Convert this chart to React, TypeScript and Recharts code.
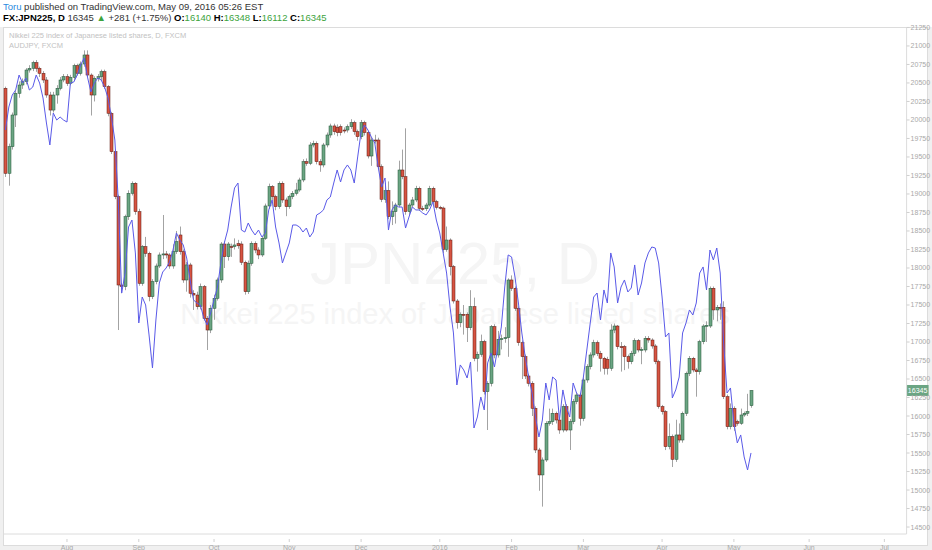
import { ComposedChart, Bar, Line, XAxis, YAxis, ReferenceLine } from 'recharts';

// JPN225 daily candles, Jul 2015 – May 9 2016
const opens = [
  20428, 19279, 19639, 20067, 20360, 20472, 20517, 20675, 20698, 20774, 20698, 20630, 20540, 20337, 20134, 20337, 20428, 20540, 20585, 20495,
  20576, 20733, 20630, 20756, 20878, 20607, 20337, 20563, 20585, 20652, 20450, 20090, 19571, 18964, 17770, 17748, 18693, 19009, 19144, 18761,
  17793, 18288, 18198, 17613, 17815, 18027, 18176, 18190, 18176, 18027, 18221, 18446, 18221, 17838, 18041, 17658, 17635, 17477, 17748, 17320,
  17162, 17455, 17590, 17838, 18324, 18153, 18290, 18288, 18330, 18324, 18077, 17680, 18063, 18333, 18243, 18176, 18401, 18838, 19099, 18964,
  18829, 19144, 18919, 18829, 18964, 19009, 19054, 19189, 19436, 19414, 19662, 19684, 19436, 19392, 19662, 19797, 19919, 19900, 19909, 19864,
  19864, 19909, 19963, 19842, 19774, 19963, 19829, 19513, 19729, 19729, 19369, 18928, 19045, 18694, 18761, 18851, 19324, 19234, 18761, 18851,
  18919, 19076, 18806, 18800, 18851, 19076, 18896, 18820, 18810, 18252, 18378, 18018, 17554, 17261, 17374, 17374, 17194, 17477, 16780, 16834,
  17004, 16329, 16442, 17207, 16825, 17037, 17045, 17059, 17838, 17726, 17455, 16991, 16802, 16541, 16442, 16104, 15541, 15204, 15406, 15902,
  15924, 16037, 15946, 15811, 16127, 15811, 15924, 16194, 16284, 15969, 16487, 16667, 16825, 16991, 16847, 16780, 16766, 16645, 17162, 17216,
  16937, 16937, 16802, 16734, 16847, 17018, 16892, 16892, 17050, 17027, 16946, 16734, 16127, 16059, 15586, 15721, 15415, 15744, 15676, 16037,
  16577, 16780, 16622, 16599, 17004, 17216, 17216, 17726, 17433, 17469, 17469, 16261, 15856, 16104, 15924, 15902, 16014, 16037, 16140,
];
const highs = [
  20450, 19680, 20100, 20400, 20520, 20560, 20700, 20740, 20800, 20810, 20720, 20660, 20580, 20380, 20380, 20470, 20580, 20620, 20620, 20610,
  20760, 20760, 20790, 20940, 20940, 20630, 20590, 20620, 20680, 20680, 20470, 20110, 19600, 18990, 17800, 18720, 19050, 19170, 19160, 18800,
  18310, 18420, 18220, 17850, 18060, 18210, 18716, 18230, 18200, 18320, 18500, 18560, 18250, 18080, 18070, 17700, 17680, 17790, 17770, 17350,
  17500, 17640, 17870, 18350, 18360, 18350, 18330, 18400, 18380, 18360, 18100, 18100, 18360, 18360, 18280, 18430, 18870, 19140, 19120, 18990,
  19170, 19170, 18950, 18990, 19040, 19150, 19220, 19470, 19480, 19700, 19720, 19710, 19470, 19690, 19830, 19950, 19950, 19940, 19940, 19900,
  19940, 20010, 19990, 19870, 20000, 19990, 19850, 19760, 19800, 19760, 19400, 19150, 19170, 18900, 18880, 19450, 19600, 19887, 18880, 18960,
  19110, 19100, 18840, 18880, 19110, 19100, 18920, 18840, 18830, 18560, 18400, 18040, 17580, 17400, 17500, 17400, 17700, 17600, 16870, 17100,
  17030, 16470, 17230, 17240, 17150, 17100, 17200, 17860, 17900, 17750, 17480, 17020, 16830, 16570, 16470, 16130, 15570, 15440, 15930, 16100,
  16100, 16060, 15980, 16160, 16160, 15960, 16230, 16320, 16310, 16520, 16700, 16860, 17030, 17020, 16880, 16800, 16800, 17240, 17250, 17230,
  17000, 16960, 16830, 16880, 17050, 17040, 16930, 17080, 17080, 17050, 16970, 16760, 16150, 16080, 15900, 15750, 15950, 15900, 16060, 16600,
  16810, 16800, 16650, 17030, 17240, 17280, 17750, 17750, 17500, 17520, 17550, 16290, 16170, 16130, 15950, 16100, 16060, 16300, 16348,
];
const lows = [
  19230, 19112, 19600, 19905, 20300, 20420, 20480, 20640, 20660, 20650, 20580, 20500, 20300, 20060, 20100, 20220, 20400, 20510, 20460, 20470,
  20540, 20600, 20600, 20720, 20580, 20060, 20250, 20520, 20540, 20420, 20050, 19540, 18930, 17162, 17658, 17700, 18650, 18980, 18720, 17760,
  17760, 18150, 17550, 17580, 17780, 18000, 18120, 18130, 17990, 17990, 18190, 18180, 17800, 17680, 17600, 17433, 17440, 17440, 17290, 16892,
  17120, 17300, 17560, 17800, 18000, 18100, 18150, 18250, 18260, 18040, 17640, 17650, 18030, 18200, 18120, 18150, 18380, 18800, 18920, 18780,
  18800, 18880, 18700, 18800, 18930, 18980, 19030, 19160, 19380, 19390, 19630, 19400, 19300, 19360, 19630, 19760, 19800, 19780, 19790, 19820,
  19830, 19880, 19800, 19720, 19740, 19790, 19480, 19380, 19680, 19340, 18890, 18880, 18660, 18580, 18600, 18820, 19200, 18720, 18700, 18820,
  18890, 18770, 18770, 18770, 18830, 18870, 18790, 18790, 18200, 18220, 17900, 17520, 17180, 17200, 17100, 17000, 17160, 16740, 16600, 16800,
  16290, 15811, 16400, 16780, 16790, 16900, 16990, 16800, 17690, 17420, 16950, 16500, 16500, 16400, 16000, 15500, 14990, 14776, 15380, 15870,
  15880, 15900, 15760, 15780, 15790, 15541, 15890, 16160, 15870, 15930, 16450, 16630, 16790, 16810, 16600, 16560, 16560, 16610, 17120, 16900,
  16600, 16620, 16640, 16700, 16810, 16860, 16700, 16860, 16990, 16910, 16700, 16100, 16020, 15540, 15550, 15311, 15380, 15640, 15640, 16000,
  16540, 16590, 16261, 16560, 16970, 17000, 17190, 17300, 17280, 17300, 16230, 15820, 15820, 15800, 15870, 15880, 15990, 16000, 16112,
];
const closes = [
  19279, 19639, 20067, 20360, 20472, 20517, 20675, 20698, 20774, 20698, 20630, 20540, 20337, 20134, 20337, 20428, 20540, 20585, 20495, 20576,
  20733, 20630, 20756, 20878, 20607, 20337, 20563, 20585, 20652, 20450, 20090, 19571, 18964, 17770, 17748, 18693, 19009, 19144, 18761, 17793,
  18288, 18198, 17613, 17815, 18027, 18176, 18190, 18176, 18027, 18221, 18356, 18221, 17838, 18041, 17658, 17635, 17477, 17748, 17320, 17162,
  17455, 17590, 17838, 18324, 18153, 18324, 18288, 18311, 18300, 18077, 17680, 18063, 18333, 18243, 18176, 18401, 18838, 19099, 18964, 18829,
  19144, 18919, 18829, 18964, 19009, 19054, 19189, 19436, 19414, 19662, 19684, 19436, 19392, 19662, 19797, 19919, 19842, 19829, 19829, 19860,
  19909, 19963, 19842, 19774, 19963, 19829, 19513, 19729, 19720, 19369, 18928, 19045, 18694, 18761, 18851, 19324, 19234, 18761, 18851, 18919,
  19076, 18806, 18800, 18851, 19076, 18896, 18820, 18810, 18252, 18378, 18018, 17554, 17261, 17374, 17370, 17194, 17477, 16780, 16834, 17004,
  16329, 16442, 17207, 16825, 17037, 17045, 17059, 17838, 17726, 17455, 16991, 16802, 16541, 16442, 16104, 15541, 15204, 15406, 15902, 15924,
  16037, 15946, 15811, 16127, 15811, 15924, 16194, 16284, 15969, 16487, 16667, 16825, 16991, 16847, 16780, 16645, 16645, 17162, 17216, 16937,
  16930, 16802, 16734, 16847, 17018, 16892, 16900, 17050, 17027, 16946, 16734, 16127, 16059, 15586, 15721, 15415, 15744, 15676, 16037, 16577,
  16780, 16622, 16599, 17004, 17216, 17225, 17726, 17433, 17469, 17460, 16261, 15856, 16104, 15856, 15902, 16014, 16037, 16060, 16345,
];

// AUDJPY overlay, read in the pane's price units
const audjpy = [
  19864, 20175, 20337, 20405, 20607, 20499, 20567, 20405, 20445, 20607, 20499, 20297, 19959, 19662, 20094, 19999, 20040, 19999, 19972, 20499,
  20513, 20607, 20743, 20837, 20580, 20378, 20499, 20567, 20540, 20445, 20297, 20040, 19729, 18919, 17662, 17932, 18554, 18648, 18203, 17257,
  17608, 17500, 17095, 16649, 17297, 17797, 17946, 18000, 18081, 18243, 18473, 18378, 18311, 18135, 17838, 17568, 17527, 17500, 17325, 17230,
  17392, 17568, 17743, 18068, 18338, 18513, 18824, 19081, 19148, 18513, 18486, 18608, 18513, 18446, 18513, 18419, 18473, 18784, 18919, 18554,
  18338, 18068, 18203, 18338, 18581, 18581, 18554, 18486, 18540, 18419, 18486, 18716, 18743, 18784, 18919, 18959, 19148, 19324, 19162, 19324,
  19392, 19324, 19148, 19500, 19837, 19932, 19864, 19770, 19689, 19365, 19094, 19216, 18513, 18784, 18851, 18824, 18824, 18540, 18689, 18824,
  18784, 18784, 18743, 18716, 18784, 18892, 18648, 18473, 18203, 17932, 17473, 17122, 16419, 16690, 16622, 16514, 16730, 15838, 15987, 16257,
  16082, 16717, 16852, 16663, 16933, 17203, 17743, 18176, 18149, 17878, 17527, 17122, 16798, 16527, 16311, 15987, 15717, 15946, 16446, 16217,
  16527, 16487, 15946, 16352, 16122, 15987, 16446, 16311, 16257, 16527, 16892, 17257, 17608, 17662, 17297, 17703, 17527, 18203, 18014, 17527,
  17743, 17838, 17676, 17730, 18041, 17635, 17797, 18068, 18203, 18284, 18270, 18068, 17608, 17068, 17122, 16244, 16352, 16527, 17122, 17257,
  17433, 17365, 17527, 17932, 18014, 17703, 18243, 18108, 18270, 17932, 16987, 16311, 16379, 15906, 15636, 15744, 15447, 15271, 15501,
];

// bar index where each month starts, plus its label
const monthStarts = [18, 39, 61, 83, 104, 127, 148, 169, 192, 213, 235, 257];
const monthLabels = ['Aug', 'Sep', 'Oct', 'Nov', 'Dec', '2016', 'Feb', 'Mar', 'Apr', 'May', 'Jun', 'Jul'];

const priceTicks = [
  14500, 14750, 15000, 15250, 15500, 15750, 16000, 16250, 16500, 16750, 17000, 17250, 17500, 17750,
  18000, 18250, 18500, 18750, 19000, 19250, 19500, 19750, 20000, 20250, 20500, 20750, 21000, 21250,
];

const TOTAL_BARS = 264; // includes empty space up to mid-July
const lastClose = closes[closes.length - 1];

const UP = '#6ba583';
const DOWN = '#d75442';
const UP_BORDER = '#225437';
const DOWN_BORDER = '#5b1a13';
const WICK = '#a3a3a3';
const FONT = '"Liberation Sans", Arial, sans-serif';

const data = Array.from({ length: TOTAL_BARS }, (_, i) => ({
  i,
  o: opens[i],
  h: highs[i],
  l: lows[i],
  c: closes[i],
  range: highs[i] != null ? [lows[i], highs[i]] : null,
  audjpy: audjpy[i],
}));

function Candle(props: any) {
  const { x, y, width, height, payload } = props;
  if (!payload || payload.h == null) return null;
  const { o, h, l, c } = payload;
  const top0 = Math.min(y, y + height);
  const hh = Math.abs(height);
  const py = (v: number) => top0 + ((h - v) / (h - l || 1)) * hh;
  const cx = Math.round(x + width / 2) + 0.5;
  const up = c >= o;
  const bt = py(Math.max(o, c));
  const bb = py(Math.min(o, c));
  return (
    <g>
      <line x1={cx} x2={cx} y1={top0} y2={top0 + hh} stroke={WICK} strokeWidth={1} />
      <rect
        x={cx - 1.5}
        y={bt}
        width={3}
        height={Math.max(bb - bt, 1)}
        fill={up ? UP : DOWN}
        stroke={up ? UP_BORDER : DOWN_BORDER}
        strokeWidth={0.5}
      />
    </g>
  );
}

function MonthTick(props: any) {
  const { x, y, payload } = props;
  const k = monthStarts.indexOf(payload.value);
  if (k < 0) return null;
  return (
    <g>
      <line x1={x} x2={x} y1={y - 3} y2={y} stroke="#d0d0d0" />
      <text x={x} y={y + 8} textAnchor="middle" fontSize={7} fill="#a8a8a8" fontFamily={FONT}>
        {monthLabels[k]}
      </text>
    </g>
  );
}

function LastPriceLabel(props: any) {
  const { viewBox } = props;
  const x = viewBox.x + viewBox.width;
  const y = viewBox.y;
  return (
    <g>
      <rect x={x} y={y - 5.5} width={22} height={11} fill="#6ba583" />
      <text x={x + 11} y={y + 2.5} textAnchor="middle" fontSize={7} fill="#fff" fontFamily={FONT}>
        {lastClose}
      </text>
    </g>
  );
}

export default function App() {
  return (
    <div style={{ position: 'relative', width: 932, height: 550, background: '#f0f0f0', fontFamily: FONT, overflow: 'hidden' }}>
      <style>{'body{margin:0}'}</style>
      <div style={{ position: 'absolute', left: 0, top: 0, width: 932, height: 27, background: '#fff' }} />
      <div style={{ position: 'absolute', left: 3, top: 1, fontSize: 9.5, color: '#333', whiteSpace: 'nowrap' }}>
        <span style={{ color: '#2a8be0' }}>Toru</span> published on TradingView.com, May 09, 2016 05:26 EST
      </div>
      <div style={{ position: 'absolute', left: 3, top: 12, fontSize: 9.5, color: '#333', whiteSpace: 'nowrap' }}>
        <b style={{ color: '#000' }}>FX:JPN225, D</b> 16345 <span style={{ color: '#3ca33c' }}>▲</span> +281 (+1.75%){' '}
        <b style={{ color: '#000' }}>O:</b><span style={{ color: '#3ca33c' }}>16140</span>{' '}
        <b style={{ color: '#000' }}>H:</b><span style={{ color: '#3ca33c' }}>16348</span>{' '}
        <b style={{ color: '#000' }}>L:</b><span style={{ color: '#3ca33c' }}>16112</span>{' '}
        <b style={{ color: '#000' }}>C:</b><span style={{ color: '#3ca33c' }}>16345</span>
      </div>
      <div
        style={{
          position: 'absolute',
          left: 3,
          top: 27,
          width: 925,
          height: 519,
          boxSizing: 'border-box',
          border: '1px solid #dcdcdc',
          background: '#fff',
        }}
      />
      <div
        style={{
          position: 'absolute',
          left: 0,
          width: 910,
          top: 234,
          height: 60,
          lineHeight: '60px',
          textAlign: 'center',
          fontSize: 60,
          color: '#f5f5f5',
          whiteSpace: 'nowrap',
        }}
      >
        JPN225, D
      </div>
      <div
        style={{
          position: 'absolute',
          left: 0,
          width: 910,
          top: 299,
          height: 30,
          lineHeight: '30px',
          textAlign: 'center',
          fontSize: 29,
          color: '#f5f5f5',
          whiteSpace: 'nowrap',
        }}
      >
        Nikkei 225 index of Japanese listed shares
      </div>
      <div style={{ position: 'absolute', left: 9, top: 31, fontSize: 7.5, color: '#c2c2c2', whiteSpace: 'nowrap', lineHeight: '10px' }}>
        Nikkei 225 index of Japanese listed shares, D, FXCM
        <br />
        AUDJPY, FXCM
      </div>
      <div style={{ position: 'absolute', left: 0, top: 0 }}>
        <ComposedChart
          width={932}
          height={550}
          data={data}
          margin={{ top: 27, right: 0, bottom: 4, left: 3.7 }}
          barCategoryGap={0}
        >
          <XAxis
            dataKey="i"
            type="category"
            interval={0}
            tick={<MonthTick />}
            tickLine={false}
            axisLine={{ stroke: '#dcdcdc' }}
            height={12}
          />
          <YAxis
            orientation="right"
            type="number"
            domain={[14406, 21256]}
            allowDataOverflow
            ticks={priceTicks}
            width={25.4}
            tickSize={3}
            tickMargin={1}
            tickLine={{ stroke: '#d0d0d0' }}
            axisLine={{ stroke: '#dcdcdc' }}
            tick={{ fontSize: 7, fill: '#a8a8a8', fontFamily: FONT }}
          />
          <Bar dataKey="range" shape={<Candle />} isAnimationActive={false} />
          <Line
            dataKey="audjpy"
            stroke="#5a5ae8"
            strokeWidth={1}
            dot={false}
            activeDot={false}
            isAnimationActive={false}
          />
          <ReferenceLine y={lastClose} stroke="none" label={<LastPriceLabel />} ifOverflow="visible" />
        </ComposedChart>
      </div>
    </div>
  );
}
